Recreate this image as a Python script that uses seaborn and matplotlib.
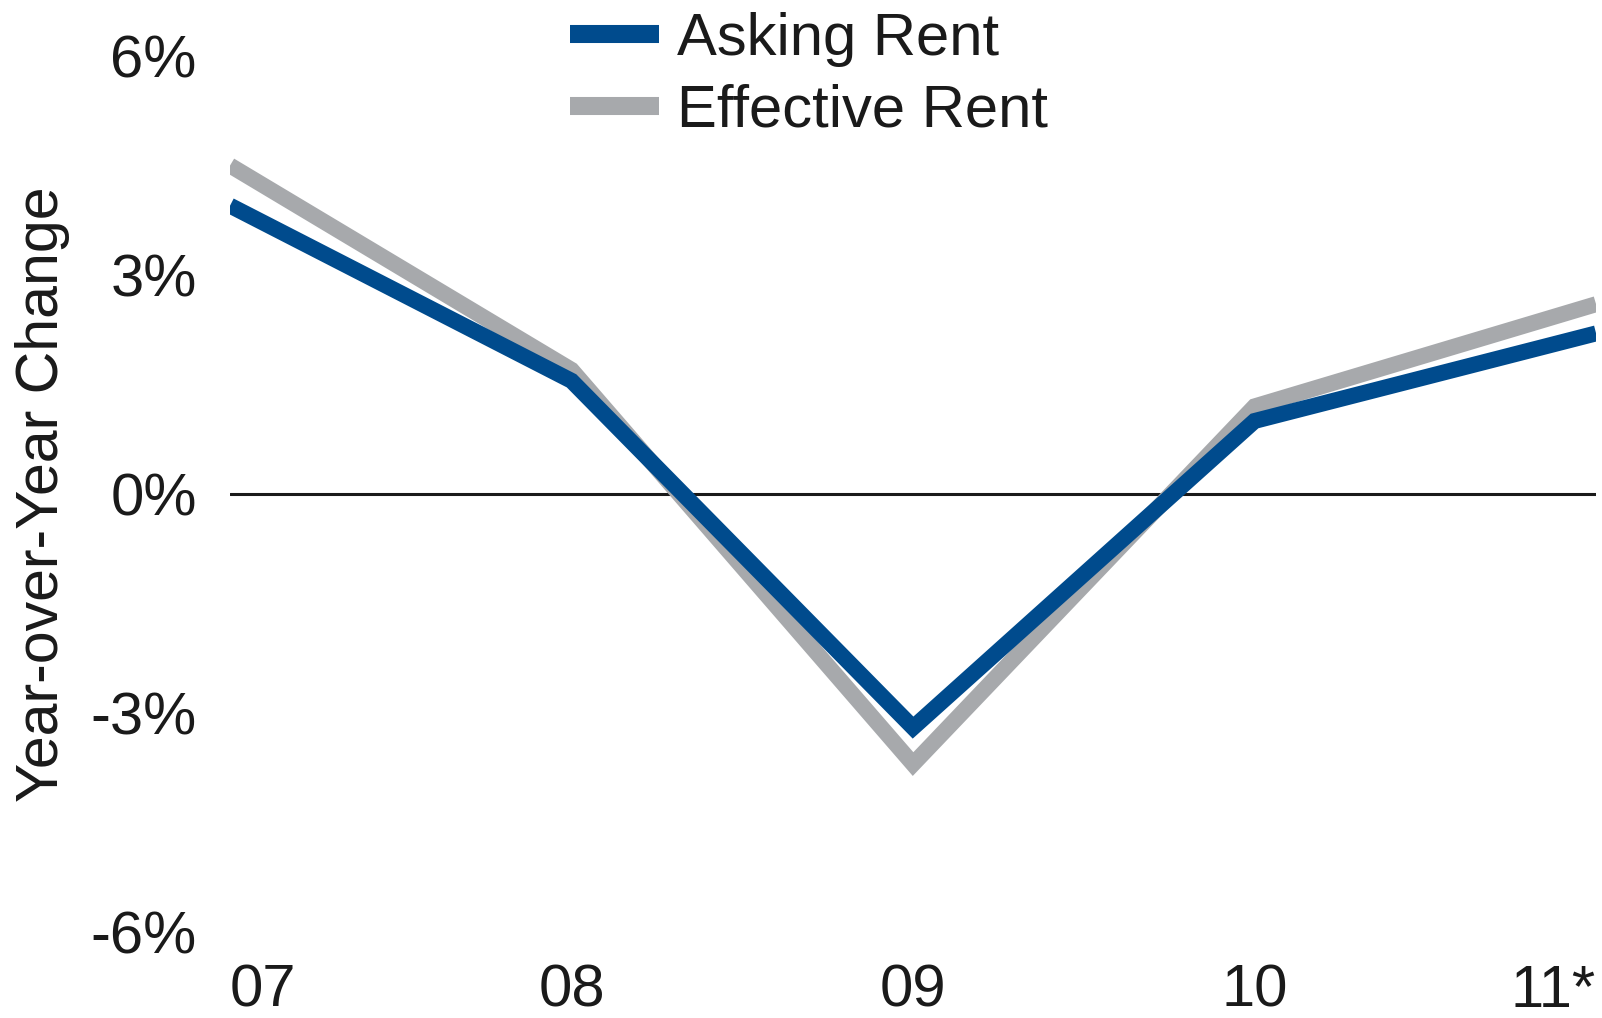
import numpy as np
import pandas as pd
import matplotlib
matplotlib.use("Agg")
import matplotlib.pyplot as plt
from matplotlib.lines import Line2D
import seaborn as sns

# Year-over-year change in rent, %
years = ["07", "08", "09", "10", "11*"]
asking_rent = [3.95, 1.55, -3.2, 1.0, 2.2]
effective_rent = [4.5, 1.7, -3.7, 1.2, 2.6]
series_names = ["Asking Rent", "Effective Rent"]
y_ticks = [-6, -3, 0, 3, 6]
y_tick_labels = ["-6%", "-3%", "0%", "3%", "6%"]

sns.set_theme(style="white")
plt.rcParams["font.family"] = ["Liberation Sans", "DejaVu Sans"]

df = pd.DataFrame({
    "pos": list(range(len(years))) * 2,
    "value": asking_rent + effective_rent,
    "series": [series_names[0]] * len(years) + [series_names[1]] * len(years),
})

fig = plt.figure(figsize=(16.02, 10.18), dpi=100)
ax = fig.add_axes([0.1436, 0.0845, 0.8527, 0.8605])

palette = {"Asking Rent": "#004B8D", "Effective Rent": "#A7A9AC"}
text_color = "#1a1a1a"
ax.axhline(0, color=text_color, lw=2.2, zorder=1)
# effective rent goes underneath, asking rent on top
sns.lineplot(data=df, x="pos", y="value", hue="series",
             hue_order=["Effective Rent", "Asking Rent"], palette=palette,
             lw=11.5, ax=ax, legend=False, sort=False, zorder=3)
for ln in ax.get_lines()[1:]:
    ln.set_solid_joinstyle("miter")
    ln.set_solid_capstyle("butt")

ax.set_xlim(0, len(years) - 1)
ax.set_ylim(-6, 6)
ax.set_yticks(y_ticks)
ax.set_yticklabels(y_tick_labels)
ax.set_xticks(range(len(years)))
ax.set_xticklabels(years)
xt = ax.get_xticklabels()
xt[0].set_ha("left")
xt[-1].set_ha("right")

ax.tick_params(axis="both", length=0, labelsize=43, colors=text_color)
ax.tick_params(axis="y", pad=24)
ax.tick_params(axis="x", pad=23)
ax.set_xlabel("")
ax.set_ylabel("Year-over-Year Change", fontsize=42.5, color=text_color)
ax.yaxis.set_label_coords(-0.117, 0.5)
for s in ax.spines.values():
    s.set_visible(False)

handles = [Line2D([0], [0], color=palette[n], lw=13, solid_capstyle="butt") for n in series_names]
fig.legend(handles, series_names, loc="upper left", bbox_to_anchor=(0.356, 0.988),
           frameon=False, fontsize=43, handlelength=1.48, handletextpad=0.3,
           labelspacing=0.28, borderpad=0, borderaxespad=0, labelcolor=text_color)

fig.savefig("out.png", dpi=100)
